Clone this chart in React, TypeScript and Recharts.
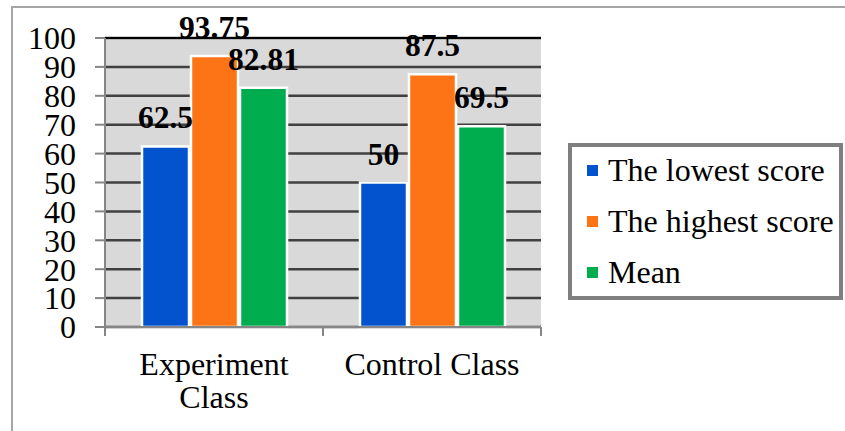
import React from "react";
import {
  BarChart,
  Bar,
  XAxis,
  YAxis,
  CartesianGrid,
  LabelList,
  Legend,
  ReferenceLine,
} from "recharts";

const categories = ["Experiment Class", "Control Class"];
const categoryTickLines: Record<string, string[]> = {
  "Experiment Class": ["Experiment", "Class"],
  "Control Class": ["Control Class"],
};
const lowestScore = [62.5, 50];
const highestScore = [93.75, 87.5];
const meanScore = [82.81, 69.5];
const seriesNames = ["The lowest score", "The highest score", "Mean"];
const seriesColors = ["#0353CF", "#FC7416", "#00AD4E"];
const yTicks = [0, 10, 20, 30, 40, 50, 60, 70, 80, 90, 100];

const data = categories.map((c, i) => ({
  category: c,
  lowest: lowestScore[i],
  highest: highestScore[i],
  mean: meanScore[i],
}));

const FONT = '"Liberation Serif", "Times New Roman", serif';
const AXIS_GRAY = "#868686";

const CategoryTick = (props: any) => {
  const { x, y, payload, width, index, visibleTicksCount } = props;
  const lines = categoryTickLines[payload.value] || [payload.value];
  const count = visibleTicksCount || categories.length;
  const bw = width / count;
  const left = x - bw / 2;
  const right = x + bw / 2;
  return (
    <g>
      <line x1={left} x2={left} y1={y} y2={y + 9} stroke={AXIS_GRAY} strokeWidth={2} />
      {index === count - 1 && (
        <line x1={right} x2={right} y1={y} y2={y + 9} stroke={AXIS_GRAY} strokeWidth={2} />
      )}
      <text
        x={x}
        y={y + 48}
        textAnchor="middle"
        fontFamily={FONT}
        fontSize={32}
        fill="#000"
      >
        {lines.map((l, i) => (
          <tspan key={i} x={x} dy={i === 0 ? 0 : 33}>
            {l}
          </tspan>
        ))}
      </text>
    </g>
  );
};

const LegendBox = (props: any) => {
  const payload = [...(props.payload || [])].sort(
    (a: any, b: any) => seriesNames.indexOf(a.value) - seriesNames.indexOf(b.value)
  );
  return (
    <div
      style={{
        boxSizing: "border-box",
        width: 275,
        height: 157,
        border: "4px solid #7F7F7F",
        background: "#fff",
        fontFamily: FONT,
        fontSize: 32,
        color: "#000",
        paddingLeft: 15,
      }}
    >
      <div style={{ marginTop: -2 }}>
        {payload.map((p: any, i: number) => (
          <div
            key={i}
            style={{
              display: "flex",
              alignItems: "center",
              height: 51,
              whiteSpace: "nowrap",
            }}
          >
            <span
              style={{
                display: "inline-block",
                width: 11,
                height: 11,
                background: p.color,
                marginRight: 10,
              }}
            />
            <span>{p.value}</span>
          </div>
        ))}
      </div>
    </div>
  );
};

export default function App() {
  return (
    <div
      style={{
        position: "absolute",
        left: 0,
        top: 0,
        width: 845,
        height: 431,
        background: "#fff",
        overflow: "hidden",
      }}
    >
      <div
        style={{
          position: "absolute",
          left: 11,
          top: 6,
          width: 900,
          height: 500,
          border: "2px solid #A6A6A6",
          boxSizing: "border-box",
        }}
      />
      <div style={{ position: "absolute", left: 0, top: 0 }}>
        <BarChart
          width={845}
          height={431}
          data={data}
          margin={{ top: 38, right: 29, bottom: 0, left: 0 }}
          barCategoryGap={37}
          barGap={2}
        >
          <CartesianGrid
            vertical={false}
            horizontal={true}
            fill="#D9D9D9"
            stroke="#404040"
            strokeWidth={2.5}
          />
          <XAxis
            dataKey="category"
            height={104}
            tickSize={0}
            tickMargin={0}
            tickLine={false}
            axisLine={{ stroke: AXIS_GRAY, strokeWidth: 2 }}
            tick={<CategoryTick />}
            interval={0}
          />
          <YAxis
            width={105}
            domain={[0, 100]}
            ticks={yTicks}
            interval={0}
            tickSize={10}
            tickMargin={19}
            axisLine={{ stroke: AXIS_GRAY, strokeWidth: 2 }}
            tickLine={{ stroke: AXIS_GRAY, strokeWidth: 2 }}
            tick={{ fontFamily: FONT, fontSize: 32, fill: "#000" }}
          />
          <YAxis
            yAxisId="r"
            orientation="right"
            width={0}
            domain={[0, 100]}
            tick={false}
            tickLine={false}
            axisLine={{ stroke: "#000", strokeWidth: 2 }}
          />
          <ReferenceLine y={100} stroke="#000" strokeWidth={2} />
          <Legend
            layout="vertical"
            verticalAlign="middle"
            align="right"
            content={<LegendBox />}
            wrapperStyle={{ position: "absolute", left: 568, top: 143, width: 275 }}
          />
          <Bar
            dataKey="lowest"
            name={seriesNames[0]}
            fill={seriesColors[0]}
            stroke="#fff"
            strokeWidth={2.5}
            isAnimationActive={false}
          >
            <LabelList
              dataKey="lowest"
              position="top"
              offset={18}
              style={{ fontFamily: FONT, fontSize: 31.5, fontWeight: "bold", fill: "#000" }}
            />
          </Bar>
          <Bar
            dataKey="highest"
            name={seriesNames[1]}
            fill={seriesColors[1]}
            stroke="#fff"
            strokeWidth={2.5}
            isAnimationActive={false}
          >
            <LabelList
              dataKey="highest"
              position="top"
              offset={18}
              style={{ fontFamily: FONT, fontSize: 31.5, fontWeight: "bold", fill: "#000" }}
            />
          </Bar>
          <Bar
            dataKey="mean"
            name={seriesNames[2]}
            fill={seriesColors[2]}
            stroke="#fff"
            strokeWidth={2.5}
            isAnimationActive={false}
          >
            <LabelList
              dataKey="mean"
              position="top"
              offset={18}
              style={{ fontFamily: FONT, fontSize: 31.5, fontWeight: "bold", fill: "#000" }}
            />
          </Bar>
        </BarChart>
      </div>
    </div>
  );
}
